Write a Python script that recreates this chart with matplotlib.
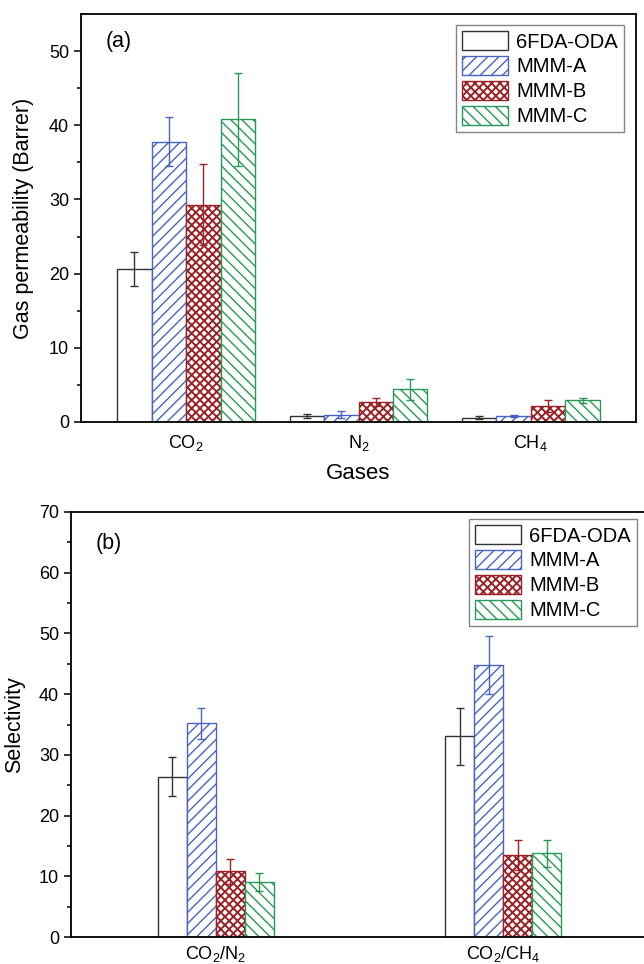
import numpy as np
import matplotlib
matplotlib.use("Agg")
import matplotlib.pyplot as plt
from matplotlib.ticker import MultipleLocator, FixedLocator

plt.rcParams["font.family"] = ["Liberation Sans", "DejaVu Sans"]
plt.rcParams["mathtext.fontset"] = "custom"
plt.rcParams["mathtext.rm"] = "Liberation Sans"
plt.rcParams["mathtext.it"] = "Liberation Sans:italic"
plt.rcParams["hatch.linewidth"] = 1.0

# series
series = ["6FDA-ODA", "MMM-A", "MMM-B", "MMM-C"]
edge_colors = ["#333333", "#4a63c2", "#9a2226", "#259a55"]
hatches = ["", "///", "xxxx", "\\\\\\"]
hatch_lw = [1.0, 1.0, 1.4, 1.0]

# (a) permeability
gases = [r"$\mathregular{CO_2}$", r"$\mathregular{N_2}$", r"$\mathregular{CH_4}$"]
perm = [
    [20.6, 0.8, 0.6],
    [37.8, 1.0, 0.8],
    [29.3, 2.7, 2.1],
    [40.8, 4.4, 2.9],
]
perm_err = [
    [2.3, 0.3, 0.2],
    [3.3, 0.5, 0.15],
    [5.5, 0.6, 0.8],
    [6.3, 1.4, 0.3],
]

# (b) selectivity
pairs = [r"$\mathregular{CO_2/N_2}$", r"$\mathregular{CO_2/CH_4}$"]
sel = [
    [26.4, 33.1],
    [35.2, 44.8],
    [10.8, 13.5],
    [9.1, 13.8],
]
sel_err = [
    [3.2, 4.7],
    [2.6, 4.8],
    [2.0, 2.5],
    [1.5, 2.2],
]

W, H = 644, 964
fig = plt.figure(figsize=(W / 100, H / 100), dpi=100)
ax_a = fig.add_axes([81 / W, 1 - 422 / H, 555 / W, 408 / H])
ax_b = fig.add_axes([71 / W, 1 - 937 / H, 577 / W, 425 / H])


def draw_panel(ax, cats, vals, errs, width, ylim, xlim, tag, tag_xy, legend_anchor):
    x = np.arange(len(cats))
    for i, name in enumerate(series):
        pos = x + (i - 1.5) * width
        with plt.rc_context({"hatch.linewidth": hatch_lw[i]}):
            bars = ax.bar(pos, vals[i], width, facecolor="white", edgecolor=edge_colors[i],
                          hatch=hatches[i], linewidth=1.0, label=name, zorder=2)
        for b in bars:
            if hasattr(b, "set_hatch_linewidth"):
                b.set_hatch_linewidth(hatch_lw[i])
        ax.errorbar(pos, vals[i], yerr=errs[i], fmt="none", ecolor=edge_colors[i],
                    elinewidth=1.0, capsize=3, capthick=1.0, zorder=3)
    ax.set_xlim(*xlim)
    ax.set_ylim(*ylim)
    ax.set_xticks(x)
    ax.set_xticklabels(cats)
    ax.yaxis.set_major_locator(MultipleLocator(10))
    ax.yaxis.set_minor_locator(FixedLocator(np.arange(5, ylim[1] - 1, 10)))
    ax.tick_params(axis="y", which="major", direction="out", length=5, width=1.1, labelsize=13)
    ax.tick_params(axis="y", which="minor", direction="out", length=3, width=1.1)
    ax.tick_params(axis="x", length=0, labelsize=13)
    for sp in ax.spines.values():
        sp.set_linewidth(1.3)
    ax.text(tag_xy[0], tag_xy[1], tag, transform=ax.transAxes, fontsize=15.5,
            ha="left", va="center")
    handles, labels = ax.get_legend_handles_labels()
    leg = ax.legend(handles, labels, loc="upper right", bbox_to_anchor=legend_anchor,
                    fontsize=14.5, frameon=True, fancybox=False, edgecolor="#666666",
                    handlelength=2.3, handleheight=1.1, labelspacing=0.22,
                    handletextpad=0.4, borderpad=0.3, borderaxespad=0.0)
    leg.get_frame().set_linewidth(1.0)
    for p, lw in zip(leg.get_patches(), hatch_lw):
        if hasattr(p, "set_hatch_linewidth"):
            p.set_hatch_linewidth(lw)


draw_panel(ax_a, gases, perm, perm_err, 0.2, (0, 55), (-0.61, 2.61), "(a)",
           ((106 - 81) / 555, 1 - (42 - 14) / 408), ((624 - 81) / 555, 1 - (25 - 14) / 408))
ax_a.set_ylabel("Gas permeability (Barrer)", fontsize=15.5)
ax_a.yaxis.set_label_coords(-(81 - 34) / 555, 0.5)
ax_a.set_xlabel("Gases", fontsize=16)
ax_a.xaxis.set_label_coords(0.5, -(463 - 422) / 408)
ax_a.tick_params(axis="x", pad=8)

draw_panel(ax_b, pairs, sel, sel_err, 0.101, (0, 70), (-0.505, 1.505), "(b)",
           ((96 - 71) / 577, 1 - (543 - 512) / 425), ((637 - 71) / 577, 1 - (519 - 512) / 425))
ax_b.set_ylabel("Selectivity", fontsize=15.5)
ax_b.yaxis.set_label_coords(-(71 - 25) / 577, 0.5)
ax_b.tick_params(axis="x", pad=5)

fig.savefig("out.png", dpi=100)
